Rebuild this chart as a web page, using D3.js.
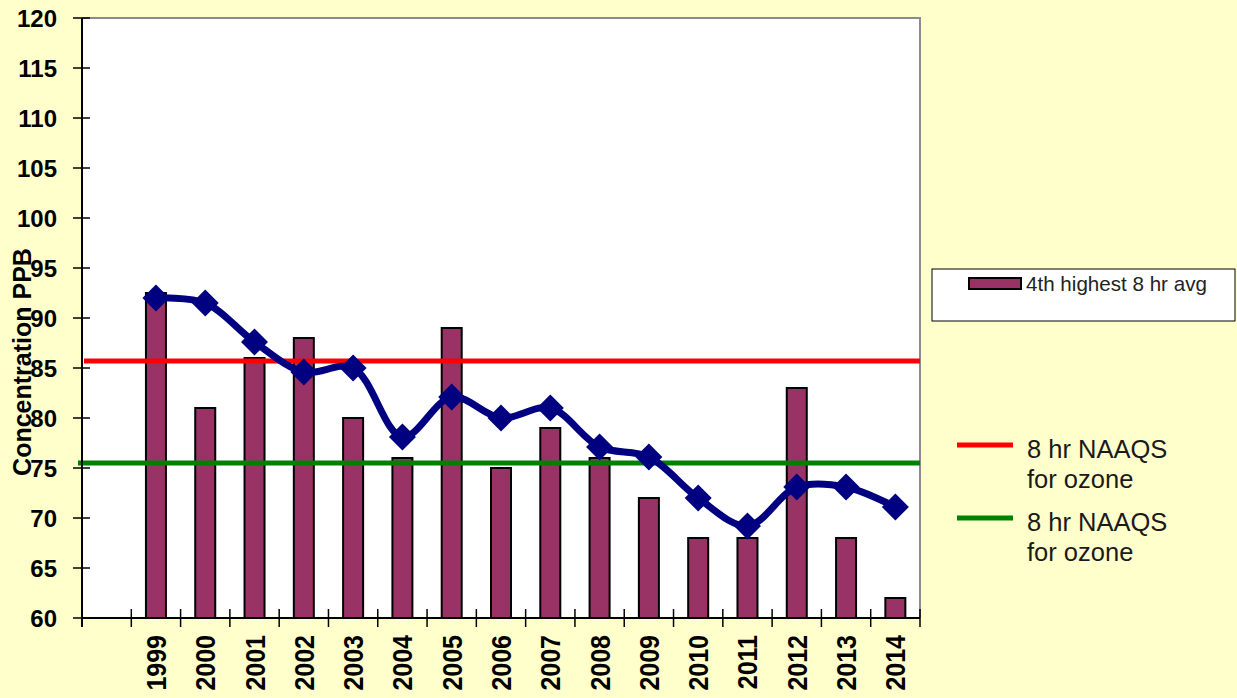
<!DOCTYPE html>
<html>
<head>
<meta charset="UTF-8">
<title>Ozone 4th highest 8 hr average</title>
<script src="https://d3js.org/d3.v7.min.js"></script>
<style>
    body, html { margin: 0; padding: 0; background: #FFFFCC; }
    svg text { font-family: "Liberation Sans", Arial, sans-serif; }
</style>
</head>
<body>
<div id="chart"></div>
<script>
    // data
    const years = ["1999","2000","2001","2002","2003","2004","2005","2006",
                   "2007","2008","2009","2010","2011","2012","2013","2014"];
    const barValues = [92.5, 81, 86, 88, 80, 76, 89, 75, 79, 76, 72, 68, 68, 83, 68, 62];
    const lineValues = [92, 91.5, 87.6, 84.6, 85, 78.1, 82.1, 80, 81, 77.1, 76.1, 72, 69.2, 73.1, 73.1, 71.1];
    const yTicks = [60, 65, 70, 75, 80, 85, 90, 95, 100, 105, 110, 115, 120];
    const redLevel = 85.7;
    const greenLevel = 75.5;
    const barLabel = "4th highest 8 hr avg";
    const refLabel = ["8 hr NAAQS", "for ozone"];

    const width = 1237, height = 698;
    const plot = { left: 82, right: 920, top: 18, bottom: 618 };

    const svg = d3.select("#chart").append("svg")
        .attr("width", width)
        .attr("height", height);

    svg.append("rect").attr("width", width).attr("height", height).attr("fill", "#FFFFCC");

    // first category is left blank, like the original sheet
    const x = d3.scaleBand()
        .domain([""].concat(years))
        .range([plot.left, plot.right])
        .padding(0);

    const y = d3.scaleLinear()
        .domain([60, 120])
        .range([plot.bottom, plot.top]);

    // plot area
    svg.append("rect")
        .attr("x", plot.left).attr("y", plot.top)
        .attr("width", plot.right - plot.left)
        .attr("height", plot.bottom - plot.top)
        .attr("fill", "#fff");
    svg.append("path")
        .attr("d", `M${plot.left},${plot.top}H${plot.right}V${plot.bottom}`)
        .attr("fill", "none").attr("stroke", "#8c8c8c").attr("stroke-width", 2);

    // bars
    const barW = 20;
    svg.selectAll(".bar")
        .data(years)
        .enter().append("rect")
        .attr("class", "bar")
        .attr("x", d => x(d) + x.bandwidth() / 2 - barW / 2)
        .attr("y", (d, i) => y(barValues[i]))
        .attr("width", barW)
        .attr("height", (d, i) => y(60) - y(barValues[i]))
        .attr("fill", "#993366")
        .attr("stroke", "#000")
        .attr("stroke-width", 2);

    // reference lines
    svg.append("line")
        .attr("x1", plot.left + 2).attr("x2", plot.right)
        .attr("y1", y(redLevel)).attr("y2", y(redLevel))
        .attr("stroke", "#ff0000").attr("stroke-width", 5);
    svg.append("line")
        .attr("x1", plot.left - 4).attr("x2", plot.right)
        .attr("y1", y(greenLevel)).attr("y2", y(greenLevel))
        .attr("stroke", "#008000").attr("stroke-width", 5);

    // smoothed line with diamonds
    const line = d3.line()
        .x((d, i) => x(years[i]) + x.bandwidth() / 2)
        .y(d => y(d))
        .curve(d3.curveCatmullRom.alpha(0.5));

    svg.append("path")
        .datum(lineValues)
        .attr("d", line)
        .attr("fill", "none")
        .attr("stroke", "#000080")
        .attr("stroke-width", 7);

    const r = 13.5;
    svg.selectAll(".marker")
        .data(lineValues)
        .enter().append("path")
        .attr("class", "marker")
        .attr("d", `M0,${-r}L${r},0L0,${r}L${-r},0Z`)
        .attr("transform", (d, i) => `translate(${x(years[i]) + x.bandwidth() / 2},${y(d)})`)
        .attr("fill", "#000080");

    // y axis
    const yAxis = svg.append("g");
    yAxis.append("line")
        .attr("x1", plot.left).attr("x2", plot.left)
        .attr("y1", plot.top).attr("y2", plot.bottom + 9)
        .attr("stroke", "#000").attr("stroke-width", 2);
    yAxis.selectAll(".yt")
        .data(yTicks)
        .enter().append("line")
        .attr("x1", plot.left - 9).attr("x2", plot.left + 8)
        .attr("y1", d => y(d)).attr("y2", d => y(d))
        .attr("stroke", "#000").attr("stroke-width", 1.5);
    yAxis.selectAll(".yl")
        .data(yTicks)
        .enter().append("text")
        .attr("x", 57)
        .attr("y", d => y(d))
        .attr("dy", "0.36em")
        .attr("text-anchor", "end")
        .attr("font-size", 24)
        .attr("font-weight", "bold")
        .text(d => d);

    // x axis
    const xAxis = svg.append("g");
    xAxis.append("line")
        .attr("x1", plot.left).attr("x2", plot.right)
        .attr("y1", plot.bottom).attr("y2", plot.bottom)
        .attr("stroke", "#000").attr("stroke-width", 2);
    const edges = x.domain().map(d => x(d)).concat([plot.right]);
    xAxis.selectAll(".xt")
        .data(edges)
        .enter().append("line")
        .attr("x1", d => d).attr("x2", d => d)
        .attr("y1", plot.bottom - 9).attr("y2", plot.bottom + 9)
        .attr("stroke", "#000").attr("stroke-width", 1.5);
    xAxis.selectAll(".xl")
        .data(years)
        .enter().append("text")
        .attr("transform", d => `translate(${x(d) + x.bandwidth() / 2 + 10},635) rotate(-90) scale(1,1.1)`)
        .attr("text-anchor", "end")
        .attr("font-size", 25)
        .attr("font-weight", "bold")
        .text(d => d);

    // axis title
    svg.append("text")
        .attr("transform", "translate(31,362) rotate(-90)")
        .attr("text-anchor", "middle")
        .attr("font-size", 25)
        .attr("font-weight", "bold")
        .text("Concentration PPB");

    // legend box for the bars
    svg.append("rect")
        .attr("x", 932).attr("y", 269)
        .attr("width", 303).attr("height", 52)
        .attr("fill", "#fff").attr("stroke", "#000").attr("stroke-width", 1);
    svg.append("rect")
        .attr("x", 969).attr("y", 278)
        .attr("width", 52).attr("height", 11)
        .attr("fill", "#993366").attr("stroke", "#000").attr("stroke-width", 2);
    svg.append("text")
        .attr("x", 1026).attr("y", 291)
        .attr("font-size", 20.6)
        .attr("fill", "#222")
        .text(barLabel);

    // legend for the reference lines
    const refs = [{ color: "#ff0000", y: 445 }, { color: "#008000", y: 518 }];
    refs.forEach(ref => {
        svg.append("line")
            .attr("x1", 957).attr("x2", 1013)
            .attr("y1", ref.y).attr("y2", ref.y)
            .attr("stroke", ref.color).attr("stroke-width", 5);
        const t = svg.append("text")
            .attr("x", 1027).attr("y", ref.y + 13)
            .attr("font-size", 25.5)
            .attr("fill", "#1a1a1a");
        refLabel.forEach((s, i) => {
            t.append("tspan").attr("x", 1027).attr("dy", i === 0 ? 0 : 30).text(s);
        });
    });
</script>
</body>
</html>
